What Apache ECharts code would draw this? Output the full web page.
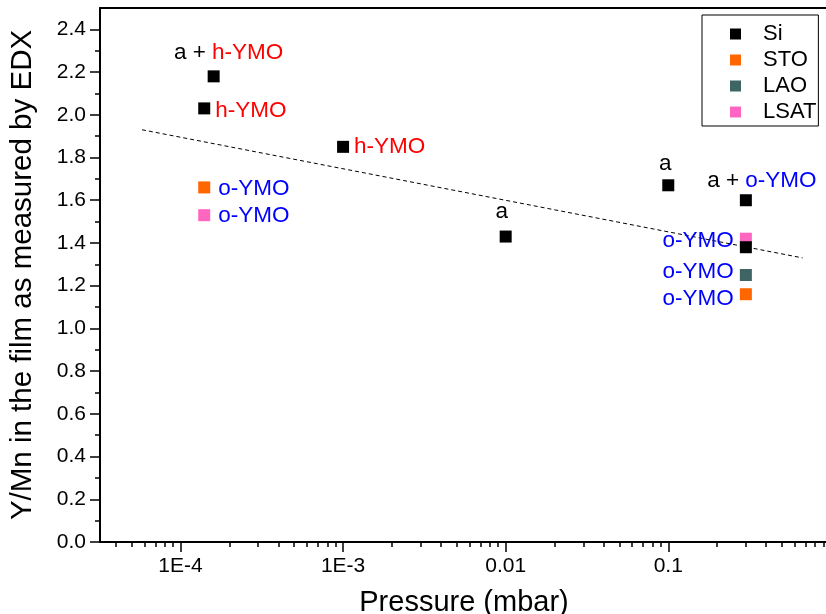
<!DOCTYPE html>
<html>
<head>
<meta charset="utf-8">
<script src="https://cdn.jsdelivr.net/npm/echarts@6/dist/echarts.min.js"></script>
<style>
html,body{margin:0;padding:0;background:#fff;}
#c{width:826px;height:614px;}
</style>
</head>
<body>
<div id="c"></div>
<script>
// ---- data ----
const siP = [1.6e-4, 1.4e-4, 1e-3, 0.01, 0.1, 0.3, 0.3];
const siR = [2.18, 2.03, 1.85, 1.43, 1.67, 1.60, 1.38];
const siPrefix = ['a + ', '', '', 'a', 'a', 'a + ', ''];
const siPhase = ['h-YMO', 'h-YMO', 'h-YMO', '', '', 'o-YMO', ''];

const stoP = [1.4e-4, 0.3];
const stoR = [1.66, 1.16];
const stoPhase = ['o-YMO', 'o-YMO'];

const laoP = [0.3];
const laoR = [1.25];
const laoPhase = ['o-YMO'];

const lsatP = [1.4e-4, 0.3];
const lsatR = [1.53, 1.42];
const lsatPhase = ['o-YMO', 'o-YMO'];

const fitP = [5.8e-5, 0.67];
const fitR = [1.93, 1.33];

const xMajor = [1e-4, 1e-3, 1e-2, 1e-1];
const xMajorLabels = ['1E-4', '1E-3', '0.01', '0.1'];
const xMinor = [4e-5,5e-5,6e-5,7e-5,8e-5,9e-5,
  2e-4,3e-4,4e-4,5e-4,6e-4,7e-4,8e-4,9e-4,
  2e-3,3e-3,4e-3,5e-3,6e-3,7e-3,8e-3,9e-3,
  2e-2,3e-2,4e-2,5e-2,6e-2,7e-2,8e-2,9e-2,
  0.2,0.3,0.4,0.5,0.6,0.7,0.8,0.9];
const yMajor = [0,0.2,0.4,0.6,0.8,1.0,1.2,1.4,1.6,1.8,2.0,2.2,2.4];
const yMinor = [0.1,0.3,0.5,0.7,0.9,1.1,1.3,1.5,1.7,1.9,2.1,2.3];

// ---- styles ----
const FONT = '"Liberation Sans", Arial, sans-serif';
const RED = '#ff0000', BLUE = '#0000ff';
const LBL = 22.5;
const rich = {
  k: {color: '#000', fontSize: LBL, fontFamily: FONT},
  r: {color: RED, fontSize: LBL, fontFamily: FONT},
  b: {color: BLUE, fontSize: LBL, fontFamily: FONT}
};
const siLabelPos = [
  {position: 'top', offset: [15, -1]},
  {position: 'right', offset: [0, 2]},
  {position: 'right', offset: [0, 0]},
  {position: 'top', offset: [-4, -2]},
  {position: 'top', offset: [-3, 1]},
  {position: 'top', offset: [16, 3]},
  null
];
const stoLabelPos = [{position: 'right', offset: [3, 1]}, {position: 'left', offset: [-1, 5]}];
const laoLabelPos = [{position: 'left', offset: [-1, -3]}];
const lsatLabelPos = [{position: 'right', offset: [3, 1]}, {position: 'left', offset: [-1, 2]}];

function phaseTag(ph) {
  if (!ph) return '';
  return (ph[0] === 'h' ? '{r|' : '{b|') + ph + '}';
}
function buildData(ps, rs, prefixes, phases, pos) {
  return ps.map((p, i) => {
    const txt = (prefixes && prefixes[i] ? '{k|' + prefixes[i] + '}' : '') + phaseTag(phases[i]);
    const item = {value: [p, rs[i]]};
    if (txt && pos[i]) {
      item.label = {show: true, formatter: txt, rich: rich, position: pos[i].position,
        offset: pos[i].offset, distance: 5, opacity: 1};
    }
    return item;
  });
}

const chart = echarts.init(document.getElementById('c'), null, {renderer: 'canvas'});
const axisLine = {show: true, lineStyle: {color: '#000', width: 2}};
const option = {
  animation: false,
  backgroundColor: '#fff',
  grid: {left: 100, right: -2, top: 8, bottom: 72, containLabel: false, outerBoundsMode: 'none'},
  legend: {
    show: true,
    orient: 'vertical',
    left: 702, top: 15,
    data: ['Si', 'STO', 'LAO', 'LSAT'],
    icon: 'rect',
    itemWidth: 11, itemHeight: 11,
    itemGap: 4,
    padding: [8, 2, 3, 28],
    borderColor: '#000', borderWidth: 1,
    backgroundColor: '#fff',
    itemStyle: {opacity: 1},
    textStyle: {fontSize: 22, fontFamily: FONT, color: '#000', lineHeight: 22, padding: [0, 0, 0, 17]}
  },
  xAxis: [
    {
      type: 'log', logBase: 10, min: 3.2e-5, max: 0.96, position: 'bottom',
      name: 'Pressure (mbar)', nameLocation: 'middle', nameGap: 46,
      nameTextStyle: {fontSize: 29, fontFamily: FONT, color: '#000'},
      axisLine: axisLine,
      axisTick: {show: true, inside: false, length: 10, lineStyle: {color: '#000', width: 1.5}, customValues: xMajor},
      axisLabel: {show: true, customValues: xMajor, margin: 14, fontSize: 21, fontFamily: FONT, color: '#000',
        formatter: v => { const i = xMajor.findIndex(m => Math.abs(Math.log10(m) - Math.log10(v)) < 1e-6); return i >= 0 ? xMajorLabels[i] : ''; }},
      splitLine: {show: false}, minorTick: {show: false}, minorSplitLine: {show: false}
    },
    {
      type: 'log', logBase: 10, min: 3.2e-5, max: 0.96, position: 'bottom',
      axisLine: {show: false},
      axisTick: {show: true, inside: false, length: 5, lineStyle: {color: '#000', width: 1.5}, customValues: xMinor},
      axisLabel: {show: false},
      splitLine: {show: false}
    },
    {
      type: 'value', min: 0, max: 1, position: 'top',
      axisLine: axisLine, axisTick: {show: false}, axisLabel: {show: false}, splitLine: {show: false}
    }
  ],
  yAxis: [
    {
      type: 'value', min: 0, max: 2.5, position: 'left',
      name: 'Y/Mn in the film as measured by EDX', nameLocation: 'middle', nameGap: 62,
      nameTextStyle: {fontSize: 29.5, fontFamily: FONT, color: '#000'},
      axisLine: axisLine,
      axisTick: {show: true, inside: false, length: 10, lineStyle: {color: '#000', width: 1.5}, customValues: yMajor},
      axisLabel: {show: true, customValues: yMajor, margin: 14, fontSize: 21, fontFamily: FONT, color: '#000',
        formatter: v => v.toFixed(1)},
      splitLine: {show: false}
    },
    {
      type: 'value', min: 0, max: 2.5, position: 'left',
      axisLine: {show: false},
      axisTick: {show: true, inside: false, length: 5, lineStyle: {color: '#000', width: 1.5}, customValues: yMinor},
      axisLabel: {show: false},
      splitLine: {show: false}
    }
  ],
  series: [
    {
      name: 'fit', type: 'line', xAxisIndex: 0, yAxisIndex: 0,
      data: fitP.map((p, i) => [p, fitR[i]]),
      symbol: 'none', silent: true,
      lineStyle: {color: '#000', width: 1, type: [4, 3]}, z: 1
    },
    {
      name: 'LSAT', type: 'scatter', xAxisIndex: 0, yAxisIndex: 0, symbol: 'rect', symbolSize: 12,
      itemStyle: {color: '#ff66c0', opacity: 1},
      data: buildData(lsatP, lsatR, null, lsatPhase, lsatLabelPos), z: 3
    },
    {
      name: 'LAO', type: 'scatter', xAxisIndex: 0, yAxisIndex: 0, symbol: 'rect', symbolSize: 12,
      itemStyle: {color: '#3e6464', opacity: 1},
      data: buildData(laoP, laoR, null, laoPhase, laoLabelPos), z: 3
    },
    {
      name: 'STO', type: 'scatter', xAxisIndex: 0, yAxisIndex: 0, symbol: 'rect', symbolSize: 12,
      itemStyle: {color: '#ff6600', opacity: 1},
      data: buildData(stoP, stoR, null, stoPhase, stoLabelPos), z: 3
    },
    {
      name: 'Si', type: 'scatter', xAxisIndex: 0, yAxisIndex: 0, symbol: 'rect', symbolSize: 12,
      itemStyle: {color: '#000', opacity: 1},
      data: buildData(siP, siR, siPrefix, siPhase, siLabelPos), z: 4
    }
  ]
};
chart.setOption(option);
</script>
</body>
</html>
